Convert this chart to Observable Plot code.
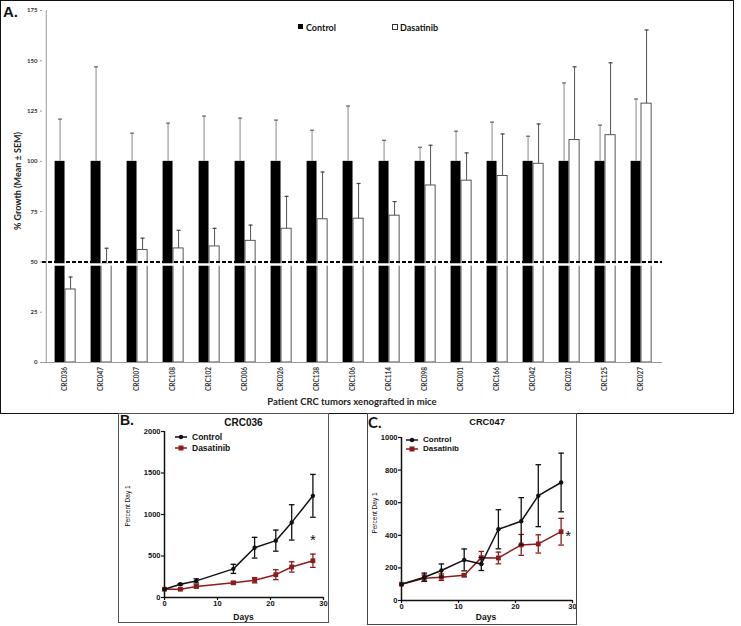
<!DOCTYPE html>
<html><head><meta charset="utf-8">
<script src="https://cdn.jsdelivr.net/npm/d3@7"></script>
<script src="https://cdn.jsdelivr.net/npm/@observablehq/plot@0.6"></script>
<style>
body{margin:0;background:#fff;}
#root{position:relative;width:741px;height:626px;overflow:hidden;background:#fff;}
.t{position:absolute;white-space:nowrap;line-height:1;}
.box{position:absolute;box-sizing:border-box;pointer-events:none;}
</style></head><body><div id="root"></div>
<script>
// ---------- Panel A data ----------
const patients = ["CRC036","CRC047","CRC007","CRC108","CRC102","CRC006","CRC026","CRC138","CRC106","CRC114","CRC098","CRC001","CRC166","CRC042","CRC021","CRC125","CRC027"];
const controlMean = [100,100,100,100,100,100,100,100,100,100,100,100,100,100,100,100,100];
const controlSem = [21,47,14,19,22.5,21.5,20.5,15.5,27.5,10.5,7,15,19.5,12.5,39,18,31];
const dasatinibMean = [36.3,49,55.9,56.7,57.7,60.5,66.5,71.2,71.5,73,88,90.4,92.7,98.8,110.6,113,128.7];
const dasatinibSem = [6.2,7.8,5.9,9,9,7.8,16.1,23.5,17.5,7,20,13.8,20.9,19.8,36.4,36,36.6];
const yTicksA = [0,25,50,75,100,125,150,175];
const thresholdA = [50];

// ---------- Panel B data (CRC036) ----------
const daysB = [0,3,6,13,17,21,24,28];
const controlB = [100,160,200,345,600,685,905,1225];
const controlSemB = [0,8,25,55,125,127,213,258];
const dasatinibB = [100,100,133,177,208,275,368,443];
const dasatinibSemB = [0,6,18,15,32,60,62,80];
const yTicksB = [0,500,1000,1500,2000];
const starB = [{day:28, value:443}];

// ---------- Panel C data (CRC047) ----------
const daysC = [0,4,7,11,14,17,21,24,28];
const controlC = [100,143,184,249,224,437,486,643,724];
const controlSemC = [0,25,40,67,40,120,145,190,180];
const dasatinibC = [100,137,143,155,263,261,341,347,422];
const dasatinibSemC = [0,20,20,8,38,36,64,56,82];
const yTicksC = [0,200,400,600,800,1000];
const starC = [{day:28, value:422}];
const xTicksBC = [0,10,20,30];

const RED = "#8e1b1b";
const root = document.getElementById("root");
function put(el, left, top){ el.style.position="absolute"; el.style.left=left+"px"; el.style.top=top+"px"; root.appendChild(el); return el; }
function txt(s, x, y, css, rot){
  const d=document.createElement("div"); d.className="t"; d.textContent=s;
  d.style.cssText += css;
  d.style.left=x+"px"; d.style.top=y+"px";
  d.style.transform = "translate(-50%,-50%)" + (rot? " rotate(-90deg)":"");
  root.appendChild(d); return d;
}
function txtL(s, x, y, css){
  const d=document.createElement("div"); d.className="t"; d.textContent=s;
  d.style.cssText += css;
  d.style.left=x+"px"; d.style.top=y+"px"; d.style.transform="translate(0,-50%)";
  root.appendChild(d); return d;
}
function box(l,t,w,h,border){ const d=document.createElement("div"); d.className="box"; d.style.left=l+"px"; d.style.top=t+"px"; d.style.width=w+"px"; d.style.height=h+"px"; d.style.border=border; root.appendChild(d); }

const cap = {draw(ctx, size){ const r=Math.sqrt(size/Math.PI); ctx.moveTo(-r,0); ctx.lineTo(r,0); }};
const plain = d => String(d);

// ---------- Panel A ----------
const rowsA = patients.map((p,i)=>({patient:p, control:controlMean[i], cs:controlSem[i], das:dasatinibMean[i], ds:dasatinibSem[i]}));
const WA=734, HA=413, mL=42, mR=72;
const bw = (WA-mL-mR)/patients.length;
const plotA = Plot.plot({
  width:WA, height:HA, marginLeft:mL, marginRight:mR, marginTop:10, marginBottom:51,
  style:{fontFamily:"Lato, sans-serif", fontWeight:"bold", color:"#333", background:"transparent", overflow:"visible"},
  x:{domain:patients, padding:0},
  y:{domain:[0,175]},
  marks:[
    Plot.barY(rowsA, {x:"patient", y:"control", fill:"black", insetLeft:8.6, insetRight:bw-19}),
    Plot.barY(rowsA, {x:"patient", y:"das", fill:"white", stroke:"#444", strokeWidth:0.9, insetLeft:19, insetRight:bw-29.6}),
    Plot.ruleX(rowsA, {x:"patient", y1:"control", y2:d=>d.control+d.cs, dx:13.8-bw/2, stroke:"#888", strokeWidth:1}),
    Plot.dot(rowsA, {x:"patient", y:d=>d.control+d.cs, dx:13.8-bw/2, symbol:cap, r:2, stroke:"#666", fill:"none", strokeWidth:1.2}),
    Plot.ruleX(rowsA, {x:"patient", y1:"das", y2:d=>d.das+d.ds, dx:24.3-bw/2, stroke:"#555", strokeWidth:1}),
    Plot.dot(rowsA, {x:"patient", y:d=>d.das+d.ds, dx:24.3-bw/2, symbol:cap, r:2, stroke:"#444", fill:"none", strokeWidth:1.2}),
    Plot.ruleY(thresholdA, {stroke:"white", strokeWidth:2.5, dy:2.6}),
    Plot.ruleY(thresholdA, {stroke:"black", strokeWidth:2, strokeDasharray:"4,2"}),
    Plot.ruleY([0], {stroke:"#999", strokeWidth:1}),
    Plot.ruleX([patients[0]], {y1:0, y2:175, dx:-bw/2, stroke:"#999", strokeWidth:1}),
    Plot.axisY({ticks:yTicksA, tickSize:2, tickPadding:3, fontSize:6, label:null, stroke:"#999"}),
    Plot.axisX({tickRotate:-90, tickSize:0, tickPadding:4.5, fontSize:6.5, label:null})
  ]
});
put(plotA, 0, 0);

// ---------- Panels B & C ----------
function growthPlot(c){
  const ctrl = c.days.map((d,i)=>({day:d, v:c.control[i], s:c.controlSem[i]}));
  const das = c.days.map((d,i)=>({day:d, v:c.das[i], s:c.dasSem[i]}));
  const ce = ctrl.filter(d=>d.s>0), de = das.filter(d=>d.s>0);
  return Plot.plot({
    width:c.w, height:c.h, marginLeft:c.ml, marginRight:c.mr, marginTop:c.mt, marginBottom:c.mb,
    style:{fontFamily:"'Liberation Sans', Arial, sans-serif", fontWeight:"bold", color:"#111", background:"transparent", overflow:"visible"},
    x:{domain:[0,30]}, y:{domain:[0,c.yMax]},
    marks:[
      Plot.axisX({ticks:xTicksBC, tickFormat:plain, tickSize:3, tickPadding:0.5, fontSize:c.fs, label:null, strokeWidth:1.2}),
      Plot.axisY({ticks:c.yTicks, tickFormat:plain, tickSize:3, tickPadding:1, fontSize:c.fs, label:null, strokeWidth:1.2}),
      Plot.ruleY([0], {stroke:"#111", strokeWidth:1.5}),
      Plot.ruleX([0], {stroke:"#111", strokeWidth:1.5}),
      Plot.ruleX(de, {x:"day", y1:d=>d.v-d.s, y2:d=>d.v+d.s, stroke:RED, strokeWidth:1.3}),
      Plot.dot(de, {x:"day", y:d=>d.v+d.s, symbol:cap, r:2.8, stroke:RED, fill:"none", strokeWidth:1.3}),
      Plot.dot(de, {x:"day", y:d=>d.v-d.s, symbol:cap, r:2.8, stroke:RED, fill:"none", strokeWidth:1.3}),
      Plot.line(das, {x:"day", y:"v", stroke:RED, strokeWidth:1.5}),
      Plot.dot(das, {x:"day", y:"v", symbol:"square", r:2.7, fill:RED}),
      Plot.ruleX(ce, {x:"day", y1:d=>d.v-d.s, y2:d=>d.v+d.s, stroke:"#111", strokeWidth:1.3}),
      Plot.dot(ce, {x:"day", y:d=>d.v+d.s, symbol:cap, r:2.8, stroke:"#111", fill:"none", strokeWidth:1.3}),
      Plot.dot(ce, {x:"day", y:d=>d.v-d.s, symbol:cap, r:2.8, stroke:"#111", fill:"none", strokeWidth:1.3}),
      Plot.line(ctrl, {x:"day", y:"v", stroke:"#111", strokeWidth:1.5}),
      Plot.dot(ctrl, {x:"day", y:"v", r:2.2, fill:"#111"}),
      Plot.text(c.star, {x:"day", y:"value", text:()=>"*", fill:"#111", fontSize:15, fontWeight:"normal", dx:c.sdx, dy:c.sdy})
    ]
  });
}
const plotB = growthPlot({days:daysB, control:controlB, controlSem:controlSemB, das:dasatinibB, dasSem:dasatinibSemB,
  yMax:2000, yTicks:yTicksB, star:starB, sdx:0, sdy:-21, w:210, h:209, ml:46, mr:5, mt:18, mb:25, fs:7.5});
put(plotB, 118, 413);
const plotC = growthPlot({days:daysC, control:controlC, controlSem:controlSemC, das:dasatinibC, dasSem:dasatinibSemC,
  yMax:1000, yTicks:yTicksC, star:starC, sdx:7, sdy:4, w:210, h:211, ml:34, mr:5, mt:24, mb:24, fs:7.5});
put(plotC, 367, 413);

// ---------- Text & legends ----------
const fA = "font-family:Lato,sans-serif;font-weight:bold;color:#222;";
txtL("A.", 3, 11, "font-family:'Liberation Sans',Arial,sans-serif;font-weight:bold;font-size:15px;color:#111;");
txt("% Growth (Mean ± SEM)", 17, 181, fA+"font-size:9px;", true);
txt("Patient CRC tumors xenografted in mice", 352, 402, fA+"font-size:9.5px;");
// legend A
const sq1=document.createElement("div"); sq1.style.cssText="width:5px;height:5px;background:#000;"; put(sq1, 298, 24);
txtL("Control", 306, 27, fA+"font-size:9px;color:#111;");
const sq2=document.createElement("div"); sq2.style.cssText="width:4px;height:4px;border:1px solid #333;background:#fff;"; put(sq2, 392, 24);
txtL("Dasatinib", 400, 27, fA+"font-size:9px;color:#111;");

const fB = "font-family:'Liberation Sans',Arial,sans-serif;font-weight:bold;color:#111;";
function legendItem(x, y, color, square, label, fs){
  const ns="http://www.w3.org/2000/svg";
  const s=document.createElementNS(ns,"svg"); s.setAttribute("width","14"); s.setAttribute("height","8");
  const l=document.createElementNS(ns,"line"); l.setAttribute("x1","1"); l.setAttribute("x2","13"); l.setAttribute("y1","4"); l.setAttribute("y2","4"); l.setAttribute("stroke",color); l.setAttribute("stroke-width","1.5"); s.appendChild(l);
  let m;
  if(square){ m=document.createElementNS(ns,"rect"); m.setAttribute("x","4.5"); m.setAttribute("y","1.5"); m.setAttribute("width","5"); m.setAttribute("height","5"); }
  else { m=document.createElementNS(ns,"circle"); m.setAttribute("cx","7"); m.setAttribute("cy","4"); m.setAttribute("r","2.2"); }
  m.setAttribute("fill",color); s.appendChild(m);
  put(s, x, y-4);
  txtL(label, x+18, y, fB+"font-size:"+fs+"px;");
}
// Panel B text
txtL("B.", 120, 420, fB+"font-size:14px;");
txt("CRC036", 243.5, 423, fB+"font-size:10px;");
legendItem(174, 436.7, "#111", false, "Control", 8.5);
legendItem(174, 447.7, RED, true, "Dasatinib", 8.5);
txt("Percent Day 1", 128, 506, "font-family:'Liberation Sans',Arial,sans-serif;font-size:6.5px;color:#111;", true);
txt("Days", 243.5, 616.5, fB+"font-size:8.5px;");
// Panel C text
txtL("C.", 368, 422, "font-family:Lato,sans-serif;font-weight:bold;font-size:15px;color:#111;");
txt("CRC047", 487, 422.7, fB+"font-size:9.3px;");
legendItem(405, 440, "#111", false, "Control", 8);
legendItem(405, 449, RED, true, "Dasatinib", 8);
txt("Percent Day 1", 375, 513, "font-family:'Liberation Sans',Arial,sans-serif;font-size:6.5px;color:#111;", true);
txt("Days", 486, 617, fB+"font-size:8.5px;");

// panel frames
box(0, 0, 734, 414, "1.5px solid #111");
box(118, 413, 210.5, 209.5, "1.5px solid #555");
box(367, 413, 210, 212, "1.5px solid #444");
</script>
</body></html>
